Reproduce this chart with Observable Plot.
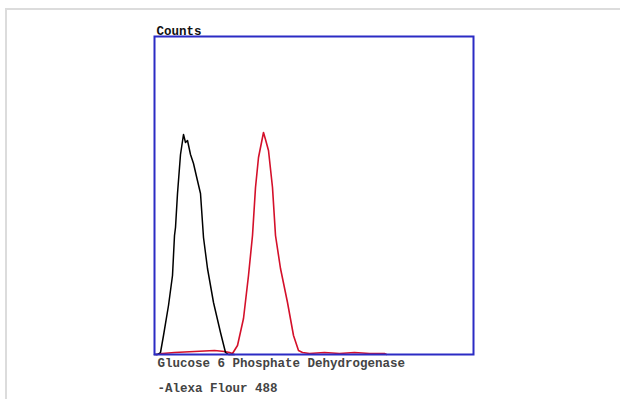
<!DOCTYPE html>
<html>
<head>
<meta charset="utf-8">
<script src="https://cdn.jsdelivr.net/npm/d3@7"></script>
<script src="https://cdn.jsdelivr.net/npm/@observablehq/plot@0.6"></script>
<style>
  html, body { margin: 0; padding: 0; background: #fff; }
  #wrap { position: relative; width: 620px; height: 399px; overflow: hidden; }
  #border { position: absolute; left: 5px; top: 8px; width: 700px; height: 500px;
            border-top: 2px solid #dcdcdc; border-left: 2px solid #dcdcdc; }
  #chart { position: absolute; left: 0; top: 0; }
</style>
</head>
<body>
<div id="wrap"><div id="border"></div><div id="chart"></div></div>
<script>
// Fluorescence channel (arbitrary units) and counts
const controlX = [0, 3, 6, 9, 14, 18, 20, 21, 23, 26, 29, 31, 33, 36, 39, 42, 46, 49, 53, 59, 66, 71, 74, 80];
const controlY = [0, 0, 2, 19, 49, 79, 119, 127, 161, 200, 220, 212, 214, 200, 191, 178, 161, 117, 86, 52, 22, 2, 0, 0];

const stainedX = [2, 8, 20, 40, 60, 70, 75, 78, 83, 89, 94, 98, 101, 104, 107, 109, 111, 114, 118, 121, 126, 133, 139, 144, 148, 155, 170, 185, 200, 215, 230, 232];
const stainedY = [0, 1, 2, 3, 4, 3, 2, 1, 9, 36, 79, 119, 167, 197, 212, 222, 215, 204, 167, 119, 86, 52, 19, 4, 2, 1, 2, 1, 2, 1, 1, 0];

const yLabel = "Counts";
const xLabelLines = ["Glucose 6 Phosphate Dehydrogenase", "-Alexa Flour 488"];

const control = controlX.map((x, i) => ({x, y: controlY[i]}));
const stained = stainedX.map((x, i) => ({x, y: stainedY[i]}));

const font = "Liberation Mono, DejaVu Sans Mono, monospace";

const chart = Plot.plot({
  width: 620,
  height: 399,
  marginLeft: 154,
  marginRight: 147,
  marginTop: 36,
  marginBottom: 45,
  x: {domain: [0, 319], axis: null},
  y: {domain: [0, 318], axis: null},
  style: {background: "transparent", fontFamily: font},
  marks: [
    Plot.line(stained, {x: "x", y: "y", stroke: "#d4102a", strokeWidth: 1.6}),
    Plot.line(control, {x: "x", y: "y", stroke: "#000", strokeWidth: 1.5}),
    Plot.frame({stroke: "#2b2bc4", strokeWidth: 2}),
    Plot.text([yLabel], {text: d => d, frameAnchor: "top-left", textAnchor: "start", lineAnchor: "bottom",
      dx: 2, dy: -2, fontSize: 12.5, fontFamily: font, fill: "#111", fontWeight: "bold"}),
    Plot.text([xLabelLines.join("\n")], {text: d => d, frameAnchor: "bottom-left", textAnchor: "start", lineAnchor: "top",
      dx: 3, dy: -5, fontSize: 12.5, lineHeight: 2, fontFamily: font, fill: "#444", fontWeight: "bold"})
  ]
});
document.getElementById("chart").appendChild(chart);
</script>
</body>
</html>
